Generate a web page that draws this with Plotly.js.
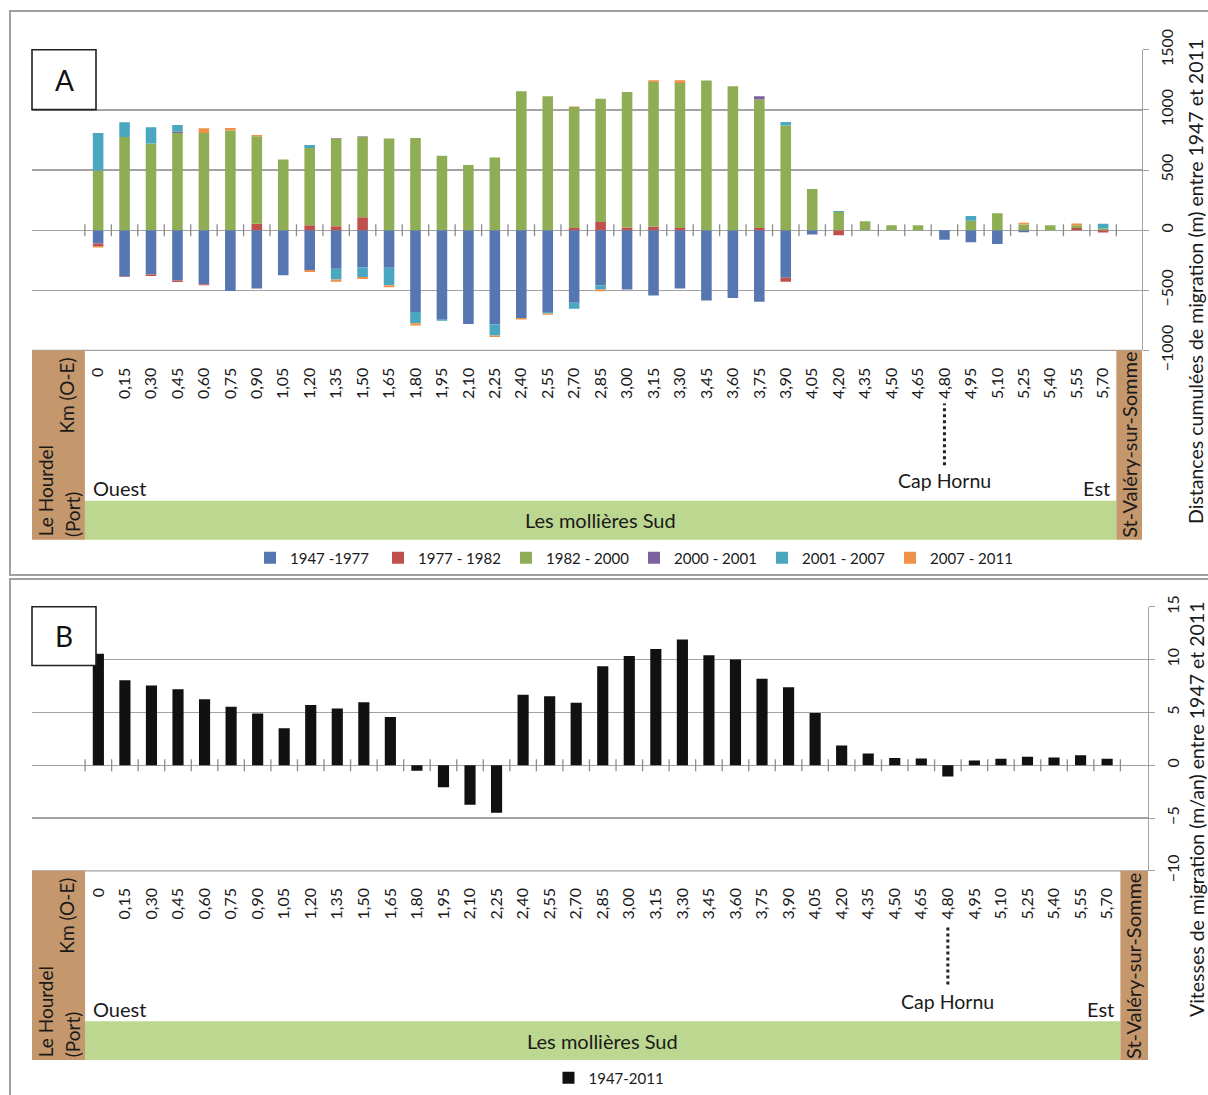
<!DOCTYPE html>
<html><head><meta charset="utf-8">
<script src="https://cdn.plot.ly/plotly-3.0.1.min.js"></script>
<style>html,body{margin:0;padding:0;background:#fff}#chart{width:1208px;height:1095px}</style>
</head><body><div id="chart"></div>
<script>
// ---------- DATA ----------
const categories = ['0','0,15','0,30','0,45','0,60','0,75','0,90','1,05','1,20','1,35','1,50','1,65','1,80','1,95','2,10','2,25','2,40','2,55','2,70','2,85','3,00','3,15','3,30','3,45','3,60','3,75','3,90','4,05','4,20','4,35','4,50','4,65','4,80','4,95','5,10','5,25','5,40','5,55','5,70'];
const seriesNames = ['1947 -1977','1977 - 1982','1982 - 2000','2000 - 2001','2001 - 2007','2007 - 2011'];
const s1947_1977 = [-110,-385,-368,-418,-450,-505,-485,-374,-332,-321,-310,-313,-681,-745,-781,-784,-731,-681,-604,-457,-493,-543,-485,-584,-565,-596,-396,-36,0,0,0,0,-80,-100,-114,-17,0,0,0];
const s1977_1982 = [-22,-5,-14,-14,-8,0,53,0,42,33,108,0,0,0,0,0,0,0,19,69,22,28,19,0,0,19,-33,0,-42,0,0,0,0,0,0,0,0,19,-19];
const s1982_2000 = [496,775,720,809,809,828,728,587,642,729,668,762,767,620,543,604,1155,1114,1006,1025,1128,1205,1206,1244,1197,1067,870,343,152,75,42,42,0,78,141,47,42,22,13];
const s2000_2001 = [0,0,0,10,0,0,0,0,0,5,5,0,0,0,0,0,0,0,0,0,0,0,0,0,0,28,0,0,0,0,0,0,0,0,0,0,0,0,0];
const s2001_2007 = [313,122,136,55,0,0,0,0,25,-89,-80,-144,-94,-8,0,-91,0,-12,-50,-36,0,0,0,0,0,0,30,0,8,0,0,0,0,39,0,0,0,0,40];
const s2007_2011 = [-12,0,0,0,39,22,11,0,-15,-19,-17,-17,-17,0,0,-14,-11,-10,3,-14,0,14,22,0,0,0,0,0,0,0,0,0,0,0,0,14,0,14,0];
const velocityName = '1947-2011';
const velocity1947_2011 = [10.55,8.05,7.55,7.2,6.25,5.53,4.9,3.49,5.69,5.38,5.97,4.56,-0.53,-2.08,-3.74,-4.5,6.67,6.54,5.91,9.37,10.35,11.0,11.9,10.4,10.0,8.18,7.39,4.94,1.86,1.1,0.69,0.63,-1.07,0.44,0.6,0.79,0.72,0.94,0.6];
const yTicksA = [-1000,-500,0,500,1000,1500];
const yTicksB = [-10,-5,0,5,10,15];
const yTitleA = 'Distances cumulées de migration (m) entre 1947 et 2011';
const yTitleB = 'Vitesses de migration (m/an) entre 1947 et 2011';
const capLabel = 'Cap Hornu';
const capCategory = '4,80';

// ---------- STYLE / LAYOUT ----------
const W = 1208, H = 1095;
const px = v => v / W;
const py = v => 1 - v / H;
const FONT = 'Lato, "Open Sans", "DejaVu Sans", sans-serif';
const GRID = '#a3a3a3';
const BROWN = '#c4976c';
const BAND = '#bcd78f';
const colorsA = ['#5576b0','#c0504d','#8fad55','#7d62a0','#4ba6c0','#f0914a'];
const seriesA = [s1947_1977, s1977_1982, s1982_2000, s2000_2001, s2001_2007, s2007_2011];

const panels = [
  {key:'A', xa:'x', ya:'y', xname:'xaxis', yname:'yaxis', xl:32, xr:1142, rangeR:39.47,
   top:50, bottom:351.7, ymin:-1000, ymax:1500, ticks:yTicksA,
   bandTop:502.7, bandBottom:541.7, labelRowY:490, capY:482, dotTop:405, dotBottom:467,
   hourdelY:493, portY:516, kmY:397, svY:447, svX:1129.5, legend:'legend', legendY:560, legendX:634, entryW:83,
   title:yTitleA, titleY:283, boxBottom:110, letterY:80, overlay:'xaxis3'},
  {key:'B', xa:'x2', ya:'y2', xname:'xaxis2', yname:'yaxis2', xl:32, xr:1148, rangeR:39.54,
   top:609, bottom:874, ymin:-10, ymax:15, ticks:yTicksB,
   bandTop:1025, bandBottom:1064, labelRowY:1013, capY:1005, dotTop:928, dotBottom:988,
   hourdelY:1016, portY:1038, kmY:919, svY:970, svX:1133.5, legend:'legend2', legendY:1082, legendX:608, entryW:74,
   title:yTitleB, titleY:812, boxBottom:668, letterY:638, overlay:'xaxis4'}
];

const traces = [];
seriesA.forEach((vals, i) => {
  traces.push({type:'bar', name:seriesNames[i], x:categories, y:vals, xaxis:'x', yaxis:'y',
    marker:{color:colorsA[i], line:{width:0}}, width:0.4, legend:'legend'});
});
traces.push({type:'bar', name:velocityName, x:categories, y:velocity1947_2011, xaxis:'x2', yaxis:'y2',
  marker:{color:'#111111', line:{width:0}}, width:0.42, legend:'legend2'});

const boundaries = categories.map((c, i) => i - 0.5).concat([categories.length - 0.5]);

const layout = {
  width:W, height:H, margin:{l:0,r:0,t:0,b:0}, paper_bgcolor:'#fff', plot_bgcolor:'rgba(0,0,0,0)',
  barmode:'relative', font:{family:FONT, color:'#1a1a1a'}, shapes:[], annotations:[]
};

panels.forEach(p => {
  const dom = [py(p.bottom), py(p.top)];
  layout[p.xname] = {domain:[px(p.xl), px(p.xr)], anchor:p.ya, type:'category', range:[-2.5, p.rangeR],
    showgrid:false, zeroline:false, showline:false, ticks:'', tickangle:-90,
    tickfont:{size:16, family:FONT, color:'#1a1a1a'}, ticklabelstandoff:13, fixedrange:true};
  layout[p.yname] = {domain:dom, anchor:p.xa, side:'right', range:[p.ymin, p.ymax], tickvals:p.ticks,
    showgrid:true, gridcolor:GRID, gridwidth:1.3, zeroline:true, zerolinecolor:GRID, zerolinewidth:1.3,
    showline:true, linecolor:GRID, linewidth:1.3, ticks:'outside', ticklen:6, tickcolor:GRID,
    tickangle:-90, tickfont:{size:16, family:FONT, color:'#1a1a1a'}, ticklabelstandoff:4, fixedrange:true};
  // table column dividers (category boundaries)
  layout[p.overlay] = {overlaying:p.xa, anchor:p.ya, type:'linear', range:[-2.5, p.rangeR],
    tickvals:boundaries, ticks:'outside', ticklen:83, tickcolor:GRID, tickwidth:1.3,
    showticklabels:false, showgrid:false, zeroline:false, showline:false, side:'bottom', fixedrange:true};

  const S = layout.shapes, A = layout.annotations;
  // tick marks crossing the zero line at category boundaries
  boundaries.forEach(b => {
    S.push({type:'line', xref:p.xa, yref:p.ya, ysizemode:'pixel', yanchor:0, x0:b, x1:b, y0:-6, y1:6,
      line:{color:'#8c8c8c', width:1.3}});
  });
  // table top line
  S.push({type:'line', xref:'paper', yref:'paper', x0:px(p.xl), x1:px(p.xr), y0:py(p.bottom), y1:py(p.bottom), line:{color:GRID, width:1.3}});
  // green band
  S.push({type:'rect', xref:p.xa, yref:'paper', x0:-0.5, x1:categories.length - 0.5, y0:py(p.bandBottom), y1:py(p.bandTop), fillcolor:BAND, line:{width:0}, layer:'above'});
  // brown boxes
  S.push({type:'rect', xref:p.xa, yref:'paper', x0:-2.5, x1:-0.5, y0:py(p.bandBottom), y1:py(p.bottom), fillcolor:BROWN, line:{width:0}, layer:'above'});
  S.push({type:'rect', xref:p.xa, yref:'paper', x0:categories.length - 0.5, x1:p.rangeR, y0:py(p.bandBottom), y1:py(p.bottom), fillcolor:BROWN, line:{width:0}, layer:'above'});
  // Cap Hornu dotted marker
  S.push({type:'line', xref:p.xa, yref:'paper', x0:categories.indexOf(capCategory), x1:categories.indexOf(capCategory),
    y0:py(p.dotBottom), y1:py(p.dotTop), line:{color:'#222', width:3, dash:'dot'}});
  // letter box
  S.push({type:'rect', xref:'paper', yref:'paper', x0:px(32), x1:px(96), y0:py(p.boxBottom), y1:py(p.top), fillcolor:'#fff', line:{color:'#222', width:1.6}, layer:'above'});
  A.push({xref:'paper', yref:'paper', x:px(64), y:py(p.letterY), text:p.key, showarrow:false, font:{size:28, family:FONT, color:'#111'}, xanchor:'center', yanchor:'middle'});
  // table texts
  const tf = {size:20, family:FONT, color:'#1a1a1a'};
  A.push({xref:'paper', yref:'paper', x:px(91), y:py(p.labelRowY), text:'Ouest', showarrow:false, font:tf, xanchor:'left', yanchor:'middle'});
  A.push({xref:p.xa, yref:'paper', x:categories.length - 0.5, y:py(p.labelRowY), text:'Est', showarrow:false, font:tf, xanchor:'right', yanchor:'middle', xshift:-4});
  A.push({xref:p.xa, yref:'paper', x:categories.indexOf(capCategory), y:py(p.capY), text:capLabel, showarrow:false, font:{size:19.5, family:FONT, color:'#1a1a1a'}, xanchor:'center', yanchor:'middle'});
  A.push({xref:p.xa, yref:'paper', x:(categories.length - 1) / 2, y:py((p.bandTop + p.bandBottom) / 2), text:'Les mollières Sud', showarrow:false, font:{size:20, family:FONT, color:'#1a1a1a'}, xanchor:'center', yanchor:'middle'});
  const rf = {size:19, family:FONT, color:'#1a1a1a'};
  A.push({xref:'paper', yref:'paper', x:px(45), y:py(p.hourdelY), text:'Le Hourdel', showarrow:false, font:rf, textangle:-90, xanchor:'center', yanchor:'middle'});
  A.push({xref:'paper', yref:'paper', x:px(72), y:py(p.portY), text:'(Port)', showarrow:false, font:rf, textangle:-90, xanchor:'center', yanchor:'middle'});
  A.push({xref:'paper', yref:'paper', x:px(67), y:py(p.kmY), text:'Km (O-E)', showarrow:false, font:rf, textangle:-90, xanchor:'center', yanchor:'middle'});
  A.push({xref:'paper', yref:'paper', x:px(p.svX), y:py(p.svY), text:'St-Valéry-sur-Somme', showarrow:false, font:{size:20, family:FONT, color:'#1a1a1a'}, textangle:-90, xanchor:'center', yanchor:'middle'});
  // y axis title
  A.push({xref:'paper', yref:'paper', x:px(1196), y:py(p.titleY), text:p.title, showarrow:false, font:{size:19.5, family:FONT, color:'#1a1a1a'}, textangle:-90, xanchor:'center', yanchor:'middle'});
  // legend
  layout[p.legend] = {orientation:'h', x:px(p.legendX), xanchor:'center', y:py(p.legendY), yanchor:'middle',
    font:{size:15, family:FONT, color:'#1a1a1a'}, bgcolor:'rgba(0,0,0,0)', itemwidth:30, traceorder:'normal',
    entrywidth:p.entryW, entrywidthmode:'pixels'};
});
// panel frames
layout.shapes.push({type:'rect', xref:'paper', yref:'paper', x0:px(10), x1:1.01, y0:py(577), y1:py(11), line:{color:'#a0a0a0', width:2}, fillcolor:'rgba(0,0,0,0)'});
layout.shapes.push({type:'rect', xref:'paper', yref:'paper', x0:px(10), x1:1.01, y0:-0.01, y1:py(581), line:{color:'#a0a0a0', width:2}, fillcolor:'rgba(0,0,0,0)'});

Plotly.newPlot('chart', traces, layout, {displayModeBar:false, staticPlot:true});
</script>
</body></html>
